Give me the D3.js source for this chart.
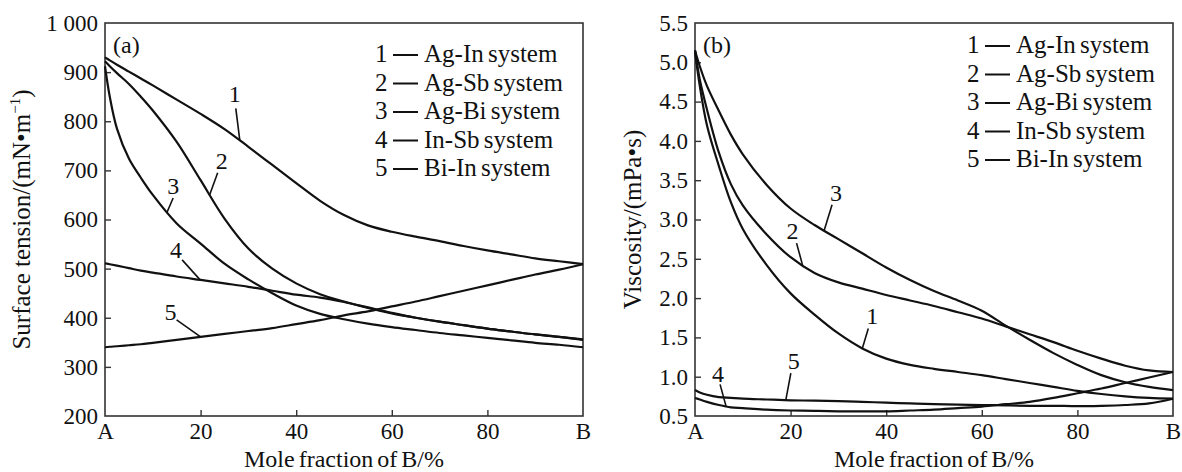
<!DOCTYPE html>
<html>
<head>
<meta charset="utf-8">
<script src="https://cdn.jsdelivr.net/npm/d3@7"></script>
<style>
  body { margin: 0; background: #fff; }
  svg text { font-family: "Liberation Serif", "Times New Roman", serif; fill: #111; }
</style>
</head>
<body>
<svg id="chart" width="1182" height="472"></svg>
<script>
// mole fraction of B (%), shared by every curve
var molX = [0, 1, 2.5, 5, 7.5, 10, 15, 20, 25, 30, 35, 40, 45, 50, 55, 60, 65, 70, 75, 80, 85, 90, 95, 100];

// (a) surface tension, mN/m
var tensionAgIn = [930, 924, 915, 901, 887, 873, 844, 815, 784, 748, 711, 674, 638, 609, 588, 575, 565, 556, 546, 537, 529, 521, 515, 509];
var tensionAgSb = [922, 912, 898, 876, 850, 822, 758, 680, 602, 541, 500, 470, 448, 433, 420, 409, 400, 392, 385, 378, 372, 366, 361, 356];
var tensionAgBi = [912, 850, 785, 724, 685, 650, 592, 551, 510, 478, 450, 425, 408, 397, 388, 381, 375, 369, 364, 359, 354, 349, 345, 340];
var tensionInSb = [511, 509, 506, 501, 496, 492, 484, 477, 470, 463, 455, 447, 441, 432, 421, 410, 400, 392, 385, 378, 372, 366, 361, 355];
var tensionBiIn = [340, 341, 342, 344, 346, 349, 355, 361, 367, 373, 379, 387, 395, 405, 413, 423, 433, 444, 455, 466, 477, 488, 498, 509];

// (b) viscosity, mPa·s
var viscAgIn = [5.15, 4.7, 4.2, 3.68, 3.22, 2.88, 2.42, 2.06, 1.79, 1.55, 1.36, 1.23, 1.15, 1.10, 1.06, 1.02, 0.97, 0.92, 0.87, 0.82, 0.78, 0.75, 0.73, 0.72];
var viscAgSb = [5.15, 4.78, 4.4, 3.85, 3.45, 3.18, 2.81, 2.52, 2.32, 2.2, 2.12, 2.04, 1.97, 1.9, 1.82, 1.74, 1.64, 1.54, 1.44, 1.33, 1.23, 1.14, 1.08, 1.06];
var viscAgBi = [5.15, 4.95, 4.7, 4.38, 4.08, 3.83, 3.44, 3.14, 2.93, 2.75, 2.57, 2.39, 2.23, 2.09, 1.97, 1.84, 1.65, 1.47, 1.30, 1.15, 1.02, 0.93, 0.87, 0.83];
var viscInSb = [0.73, 0.71, 0.68, 0.64, 0.61, 0.6, 0.58, 0.57, 0.565, 0.56, 0.56, 0.56, 0.57, 0.58, 0.6, 0.62, 0.65, 0.68, 0.73, 0.79, 0.85, 0.92, 0.99, 1.06];
var viscBiIn = [0.83, 0.8, 0.77, 0.74, 0.73, 0.72, 0.71, 0.70, 0.695, 0.69, 0.68, 0.67, 0.66, 0.65, 0.645, 0.64, 0.635, 0.63, 0.63, 0.625, 0.63, 0.64, 0.66, 0.72];

var systems = ["Ag-In system", "Ag-Sb system", "Ag-Bi system", "In-Sb system", "Bi-In system"];
var xTicks = [0, 20, 40, 60, 80, 100];
var xTickLabels = ["A", "20", "40", "60", "80", "B"];
var tensionTicks = [200, 300, 400, 500, 600, 700, 800, 900, 1000];
var viscTicks = [0.5, 1.0, 1.5, 2.0, 2.5, 3.0, 3.5, 4.0, 4.5, 5.0, 5.5];

// where the numbered call-outs touch each curve (mole fraction of B)
var tensionCallouts = [28.2, 21.9, 13, 19.9, 20];
var viscCallouts = [35, 22.5, 27, 6.5, 19];

var svg = d3.select("#chart");
var ink = "#111";

function drawPanel(opt) {
  var x = d3.scaleLinear().domain([0, 100]).range([opt.left, opt.right]);
  var y = d3.scaleLinear().domain(opt.yDomain).range([opt.bottom, opt.top]);
  var g = svg.append("g");

  // frame
  g.append("rect")
    .attr("x", opt.left).attr("y", opt.top)
    .attr("width", opt.right - opt.left).attr("height", opt.bottom - opt.top)
    .attr("fill", "none").attr("stroke", "#333").attr("stroke-width", 1.6);

  // axes, ticks pointing inward
  var xAxis = d3.axisBottom(x).tickValues(xTicks).tickSizeInner(-6).tickSizeOuter(0).tickPadding(7)
    .tickFormat(function(d, i) { return xTickLabels[i]; });
  var yAxis = d3.axisLeft(y).tickValues(opt.yTicks).tickSizeInner(-6).tickSizeOuter(0).tickPadding(7)
    .tickFormat(opt.yFormat);

  var gx = g.append("g").attr("transform", "translate(0," + opt.bottom + ")").call(xAxis);
  var gy = g.append("g").attr("transform", "translate(" + opt.left + ",0)").call(yAxis);
  [gx, gy].forEach(function(a) {
    a.select(".domain").remove();
    a.selectAll("line").attr("stroke", "#333").attr("stroke-width", 1.4);
    a.selectAll("text").attr("font-size", 23).attr("fill", ink)
      .style("font-family", '"Liberation Serif", "Times New Roman", serif');
  });
  // no tick marks in the corners
  gx.selectAll(".tick").filter(function(d) { return d === 0 || d === 100; }).select("line").remove();
  gy.selectAll(".tick").filter(function(d, i) { return i === 0 || i === opt.yTicks.length - 1; }).select("line").remove();

  // axis titles
  g.append("text")
    .attr("x", (opt.left + opt.right) / 2).attr("y", 466.5)
    .attr("text-anchor", "middle").attr("font-size", 24).attr("word-spacing", -2)
    .text("Mole fraction of B/%");

  var yt = g.append("text")
    .attr("transform", "translate(" + opt.yTitleX + "," + ((opt.top + opt.bottom) / 2) + ") rotate(-90)")
    .attr("text-anchor", "middle").attr("font-size", 25);
  opt.yTitle(yt);

  // panel tag
  g.append("text").attr("x", opt.left + 8).attr("y", opt.top + 30)
    .attr("font-size", 24).text(opt.tag);

  // curves
  var line = d3.line()
    .x(function(d) { return x(d[0]); })
    .y(function(d) { return y(d[1]); })
    .curve(d3.curveCatmullRom.alpha(0.5));

  opt.series.forEach(function(vals) {
    g.append("path")
      .datum(molX.map(function(m, i) { return [m, vals[i]]; }))
      .attr("fill", "none").attr("stroke", ink).attr("stroke-width", 2.2)
      .attr("d", line);
  });

  // numbered call-outs
  opt.series.forEach(function(vals, i) {
    var cx = opt.callouts[i];
    var cy = d3.scaleLinear().domain(molX).range(vals)(cx);
    var px = x(cx), py = y(cy);
    var off = opt.calloutOffsets[i];
    g.append("line")
      .attr("x1", px).attr("y1", py)
      .attr("x2", px + off[0]).attr("y2", py + off[1])
      .attr("stroke", ink).attr("stroke-width", 1.6);
    g.append("text")
      .attr("x", px + off[0] + off[2]).attr("y", py + off[1] + off[3])
      .attr("text-anchor", "middle").attr("font-size", 24)
      .text(i + 1);
  });

  // legend
  var lg = g.append("g").attr("transform", "translate(" + opt.legendX + "," + opt.legendY + ")");
  systems.forEach(function(s, i) {
    var row = lg.append("g").attr("transform", "translate(0," + (i * 28.5) + ")");
    row.append("text").attr("x", 0).attr("y", 0).attr("font-size", 25).text(i + 1);
    row.append("line").attr("x1", 18).attr("x2", 43).attr("y1", -7).attr("y2", -7)
      .attr("stroke", ink).attr("stroke-width", 2);
    row.append("text").attr("x", 49).attr("y", 0).attr("font-size", 25).attr("word-spacing", -2).text(s);
  });
}

drawPanel({
  left: 105, right: 583, top: 23, bottom: 416,
  yDomain: [200, 1000], yTicks: tensionTicks,
  yFormat: function(d) { return d === 1000 ? "1 000" : String(d); },
  yTitleX: 30,
  yTitle: function(t) {
    t.append("tspan").text("Surface tension/(mN•m");
    t.append("tspan").attr("font-size", 15).attr("dy", -10).text("−1");
    t.append("tspan").attr("dy", 10).text(")");
  },
  tag: "(a)",
  series: [tensionAgIn, tensionAgSb, tensionAgBi, tensionInSb, tensionBiIn],
  callouts: tensionCallouts,
  // [dx, dy] of the leader end, then label offset from it
  calloutOffsets: [[-4, -32, -1, -6], [8, -22, 4, -4], [6, -14, 0, -4], [-18, -20, -6, -2], [-24, -17, -6, 0]],
  legendX: 375, legendY: 62
});

drawPanel({
  left: 695, right: 1173, top: 23, bottom: 416,
  yDomain: [0.5, 5.5], yTicks: viscTicks,
  yFormat: d3.format(".1f"),
  yTitleX: 641,
  yTitle: function(t) { t.text("Viscosity/(mPa•s)"); },
  tag: "(b)",
  series: [viscAgIn, viscAgSb, viscAgBi, viscInSb, viscBiIn],
  callouts: viscCallouts,
  calloutOffsets: [[6, -20, 4, -4], [-6, -22, -4, -4], [8, -26, 4, -4], [-6, -22, -2, -2], [5, -27, 3, -4]],
  legendX: 967, legendY: 53
});
</script>
</body>
</html>
